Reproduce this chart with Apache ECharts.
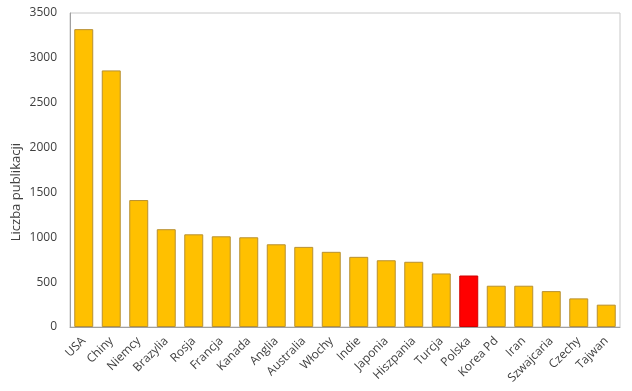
<!DOCTYPE html>
<html><head><meta charset="utf-8">
<script src="https://cdn.jsdelivr.net/npm/echarts@6/dist/echarts.min.js"></script>
<style>html,body{margin:0;padding:0;background:#fff}#c{width:632px;height:391px}</style>
</head><body><div id="c"></div>
<script>
const categories = ['USA','Chiny','Niemcy','Brazylia','Rosja','Francja','Kanada','Anglia','Australia','Włochy','Indie','Japonia','Hiszpania','Turcja','Polska','Korea Pd','Iran','Szwajcaria','Czechy','Tajwan'];
const values = [3320,2860,1415,1090,1033,1011,1000,922,893,838,782,744,727,597,574,460,460,400,319,249];
const highlight = 'Polska';
const yTicks = [0,500,1000,1500,2000,2500,3000,3500];
const yName = 'Liczba publikacji';

const chart = echarts.init(document.getElementById('c'));
chart.setOption({
  animation: false,
  grid: {left: 70, right: 12, top: 13, bottom: 64, show: true, borderColor: '#c8c8c8', borderWidth: 1},
  graphic: [{
    type: 'text', left: 10, top: 143, rotation: Math.PI/2,
    style: {text: yName, fill: '#404040', font: '13px "Open Sans"'}
  }],
  xAxis: {
    type: 'category', data: categories,
    axisLine: {show: true, lineStyle: {color: '#a0a0a0'}},
    axisTick: {show: false},
    axisLabel: {rotate: 45, color: '#404040', fontFamily: 'Open Sans', fontSize: 12, margin: 12, interval: 0}
  },
  yAxis: {
    type: 'value', min: yTicks[0], max: yTicks[yTicks.length-1], interval: 500,
    axisLine: {show: true, lineStyle: {color: '#a0a0a0'}},
    axisTick: {show: false},
    splitLine: {show: false},
    axisLabel: {color: '#404040', fontFamily: 'Open Sans', fontSize: 12, margin: 13, formatter: v => String(v)}
  },
  series: [{
    type: 'bar', barCategoryGap: '31%',
    data: values.map((v,i) => ({value: v, itemStyle: {color: categories[i] === highlight ? '#FF0000' : '#FFC000', borderColor: categories[i] === highlight ? '#d00000' : '#b89030', borderWidth: 1}}))
  }]
});
</script></body></html>
